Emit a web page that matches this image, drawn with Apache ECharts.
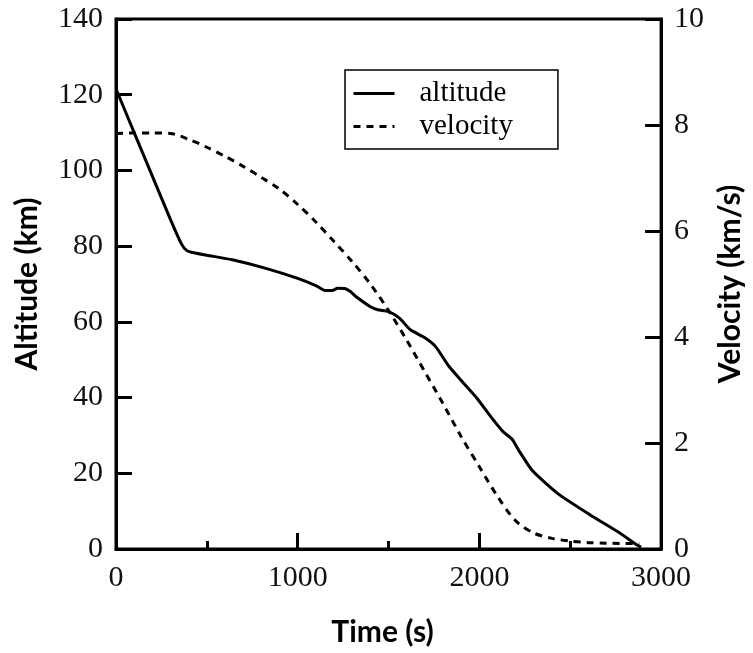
<!DOCTYPE html>
<html>
<head>
<meta charset="utf-8">
<script src="https://cdn.jsdelivr.net/npm/echarts@6/dist/echarts.min.js"></script>
<style>html,body{margin:0;padding:0;background:#fff;}#c{width:753px;height:653px;}</style>
</head>
<body>
<div id="c"></div>
<script>
// Time (s) and altitude (km)
const altTime  = [0, 100, 200, 300, 360, 390, 420, 500, 640, 820, 1000, 1100, 1150, 1190, 1220, 1260, 1290, 1320, 1400, 1440, 1500, 1560, 1620, 1700, 1760, 1830, 1900, 1980, 2070, 2130, 2180, 2220, 2290, 2430, 2610, 2760, 2870, 2890];
const altValue = [121.5, 110, 98.5, 87, 80.6, 78.8, 78.3, 77.6, 76.4, 74.2, 71.5, 69.6, 68.3, 68.3, 68.9, 68.8, 68.0, 66.7, 64.0, 63.2, 62.7, 61.0, 57.9, 55.8, 53.4, 48.4, 44.5, 40.2, 34.5, 31.0, 29.0, 25.8, 20.8, 14.7, 9.0, 4.6, 1.0, 0.5];
// Time (s) and velocity (km/s)
const velTime  = [0, 100, 200, 300, 400, 500, 600, 700, 800, 900, 1000, 1100, 1200, 1300, 1400, 1500, 1600, 1700, 1800, 1900, 2000, 2100, 2200, 2300, 2400, 2500, 2600, 2700, 2880];
const velValue = [7.84, 7.85, 7.85, 7.84, 7.73, 7.58, 7.41, 7.22, 7.01, 6.79, 6.50, 6.17, 5.80, 5.42, 5.00, 4.50, 3.94, 3.34, 2.74, 2.12, 1.55, 0.99, 0.53, 0.30, 0.20, 0.15, 0.12, 0.11, 0.10];
const seriesNames = ['altitude', 'velocity'];
const xAxisName = 'Time (s)';
const yLeftName = 'Altitude (km)';
const yRightName = 'Velocity (km/s)';

const serif = "'Liberation Serif', 'Times New Roman', serif";
const sans = "Lato, 'Open Sans', sans-serif";
const plain = v => String(v);
const lab = { fontFamily: serif, fontSize: 30, color: '#111', formatter: plain };
const nameStyle = { fontFamily: sans, fontWeight: 'bold', fontSize: 30, color: '#000' };
const axLine = { show: true, lineStyle: { color: '#000', width: 3 } };
const tick = { show: true, inside: true, length: 16, lineStyle: { color: '#000', width: 3 } };

const chart = echarts.init(document.getElementById('c'));
chart.setOption({
  animation: false,
  backgroundColor: '#fff',
  grid: { left: 116, right: 85, top: 19, bottom: 104, show: true, borderColor: '#000', borderWidth: 3 },
  legend: {
    orient: 'vertical', left: 345, top: 70,
    padding: [9, 45, 8, 7],
    borderColor: '#000', borderWidth: 1.5,
    itemWidth: 41, itemHeight: 14, itemGap: 4,
    itemStyle: { opacity: 0 },
    lineStyle: { width: 3 },
    textStyle: { fontFamily: serif, fontSize: 29, color: '#000', padding: [0, 0, 0, 20] },
    data: seriesNames
  },
  xAxis: {
    type: 'value', min: 0, max: 3000, interval: 1000,
    name: xAxisName, nameLocation: 'middle', nameGap: 68, nameTextStyle: Object.assign({ padding: [0, 12, 0, 0] }, nameStyle),
    axisLine: axLine, axisTick: tick,
    minorTick: { show: true, splitNumber: 2, length: 8, lineStyle: { color: '#000', width: 3 } },
    axisLabel: Object.assign({ margin: 14 }, lab),
    splitLine: { show: false }
  },
  yAxis: [{
    type: 'value', min: 0, max: 140, interval: 20, position: 'left',
    name: yLeftName, nameLocation: 'middle', nameGap: 74, nameTextStyle: nameStyle,
    axisLine: axLine, axisTick: tick,
    axisLabel: Object.assign({ margin: 13 }, lab),
    splitLine: { show: false }
  }, {
    type: 'value', min: 0, max: 10, interval: 2, position: 'right',
    name: yRightName, nameLocation: 'middle', nameGap: 52, nameRotate: 90, nameTextStyle: nameStyle,
    axisLine: axLine, axisTick: tick,
    axisLabel: Object.assign({ margin: 13 }, lab),
    splitLine: { show: false }
  }],
  series: [{
    name: seriesNames[0], type: 'line', yAxisIndex: 0, showSymbol: false, symbol: 'none',
    smooth: 0.2,
    lineStyle: { color: '#000', width: 3, type: 'solid' },
    itemStyle: { color: '#000' },
    data: altTime.map((t, i) => [t, altValue[i]])
  }, {
    name: seriesNames[1], type: 'line', yAxisIndex: 1, showSymbol: false, symbol: 'none',
    smooth: 0.3,
    lineStyle: { color: '#000', width: 3, type: [7, 6] },
    itemStyle: { color: '#000' },
    data: velTime.map((t, i) => [t, velValue[i]])
  }]
});
</script>
</body>
</html>
